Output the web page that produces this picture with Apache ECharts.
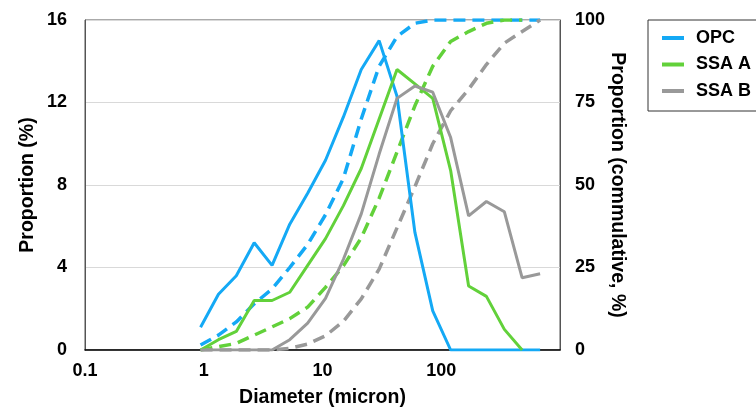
<!DOCTYPE html>
<html>
<head>
<meta charset="utf-8">
<script src="https://cdn.jsdelivr.net/npm/echarts@6/dist/echarts.min.js"></script>
<style>
html,body{margin:0;padding:0;background:#fff;}
#chart{width:756px;height:409px;}
</style>
</head>
<body>
<div id="chart"></div>
<script>
// Particle diameter bins (micron)
var diameters = [0.94,1.33,1.88,2.66,3.76,5.3,7.5,10.6,15,21.2,30,42.4,60,84.8,120,170,240,340,480,680];
// Proportion (%) per bin
var opc  = [1.1,2.7,3.6,5.2,4.1,6.1,7.6,9.2,11.3,13.6,15.0,12.3,5.7,1.9,0,0,0,0,0,0];
var ssaA = [0,0.5,0.9,2.4,2.4,2.8,4.1,5.4,7.0,8.8,11.2,13.6,12.9,12.2,8.7,3.1,2.6,1.0,0,null];
var ssaB = [0,0,0,0,0,0.5,1.3,2.5,4.4,6.6,9.5,12.2,12.8,12.5,10.3,6.5,7.2,6.7,3.5,3.7];
// Cumulative proportion (%)
var opcCum  = [1.5,4.5,8.5,14,18.5,25,32,41,52,70,86,95,99,100,100,100,100,100,100,100];
var ssaACum = [0,1,2,4.5,7,9.5,13,19,25.5,34,46,60,74,86,93.5,96.5,99,100,100,null];
var ssaBCum = [0,0,0,0,0,0.5,1.8,4.3,8.7,15.5,24.5,37,49.5,62.5,72.5,79,86.5,93,96.5,100];
// Axis ticks
var xTicks = [0.1,1,10,100];
var leftTicks = [0,4,8,12,16];
var rightTicks = [0,25,50,75,100];

function pairs(vals){
  var out=[];
  for(var i=0;i<diameters.length;i++){ if(vals[i]!==null && vals[i]!==undefined) out.push([diameters[i], vals[i]]); }
  return out;
}
var BLUE='#14a9f5', GREEN='#62d13a', GRAY='#999999';
var FONT='Liberation Sans';
var chart = echarts.init(document.getElementById('chart'));
function solid(name,color,vals){
  return {name:name,type:'line',yAxisIndex:0,data:pairs(vals),showSymbol:false,symbol:'none',
    lineStyle:{color:color,width:3},itemStyle:{color:color},z:3};
}
function dashed(name,color,vals){
  return {name:name,type:'line',yAxisIndex:1,data:pairs(vals),showSymbol:false,symbol:'none',
    lineStyle:{color:color,width:3.5,type:[12,7]},itemStyle:{color:color},z:2};
}
chart.setOption({
  animation:false,
  textStyle:{fontFamily:FONT},
  grid:{left:85,right:196,top:20,bottom:59,containLabel:false,outerBoundsMode:'none',
    show:true,borderColor:'#555',borderWidth:1,backgroundColor:'transparent'},
  legend:{
    data:['OPC','SSA A','SSA B'],
    orient:'vertical',left:648,top:20,
    icon:'rect',itemWidth:22,itemHeight:4,itemGap:8.5,
    padding:[9,30,11,14],
    borderColor:'#333',borderWidth:1,
    textStyle:{fontFamily:FONT,fontWeight:'bold',fontSize:18,color:'#000',padding:[0,0,0,7]}
  },
  xAxis:{
    type:'log',logBase:10,min:0.1,max:1000,
    name:'Diameter (micron)',nameLocation:'middle',nameGap:38,
    nameTextStyle:{fontFamily:FONT,fontWeight:'bold',fontSize:19.5,color:'#000'},
    axisLine:{show:true,lineStyle:{color:'#000',width:1.5}},
    axisTick:{show:false},
    splitLine:{show:false},
    axisLabel:{fontFamily:FONT,fontWeight:'bold',fontSize:18,color:'#000',margin:12,
      showMaxLabel:false,
      formatter:function(v){
        for(var i=0;i<xTicks.length;i++){ if(Math.abs(v-xTicks[i])<xTicks[i]*1e-6) return String(xTicks[i]); }
        return '';
      }}
  },
  yAxis:[
    {type:'value',min:leftTicks[0],max:leftTicks[leftTicks.length-1],interval:4,position:'left',
     name:'Proportion (%)',nameLocation:'middle',nameRotate:90,nameGap:47,nameMoveOverlap:false,
     nameTextStyle:{fontFamily:FONT,fontWeight:'bold',fontSize:19.5,color:'#000'},
     axisLine:{show:true,lineStyle:{color:'#555',width:1}},
     axisTick:{show:false},
     splitLine:{show:true,lineStyle:{color:'#d9d9d9',width:1}},
     axisLabel:{fontFamily:FONT,fontWeight:'bold',fontSize:18,color:'#000',margin:18}},
    {type:'value',min:rightTicks[0],max:rightTicks[rightTicks.length-1],interval:25,position:'right',
     name:'Proportion (commulative, %)',nameLocation:'middle',nameRotate:-90,nameGap:47,nameMoveOverlap:false,
     nameTextStyle:{fontFamily:FONT,fontWeight:'bold',fontSize:19.5,color:'#000'},
     axisLine:{show:true,lineStyle:{color:'#555',width:1}},
     axisTick:{show:false},
     splitLine:{show:false},
     axisLabel:{fontFamily:FONT,fontWeight:'bold',fontSize:18,color:'#000',margin:15}}
  ],
  series:[
    dashed('OPC cum',BLUE,opcCum),
    dashed('SSA A cum',GREEN,ssaACum),
    dashed('SSA B cum',GRAY,ssaBCum),
    solid('OPC',BLUE,opc),
    solid('SSA A',GREEN,ssaA),
    solid('SSA B',GRAY,ssaB)
  ]
});
</script>
</body>
</html>
